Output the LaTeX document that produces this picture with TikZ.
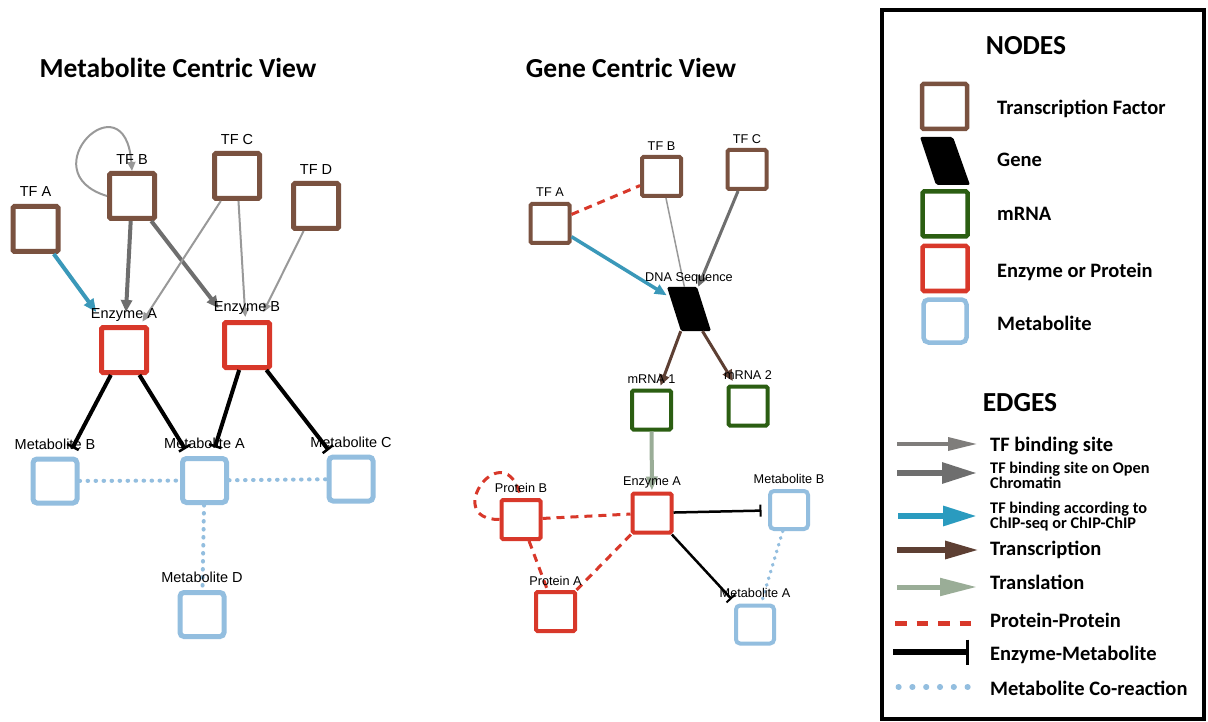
\documentclass[tikz,border=0pt]{standalone}
\usepackage{fontspec}
\setmainfont{Liberation Sans}
\newfontfamily\calib{Carlito}
\usetikzlibrary{arrows.meta}
\definecolor{tfbrown}{HTML}{7A5240}
\definecolor{enzred}{HTML}{D8382A}
\definecolor{mrnagreen}{HTML}{2B5E12}
\definecolor{metblue}{HTML}{93BEDF}
\definecolor{chipblue}{HTML}{3A98B9}
\definecolor{greythin}{HTML}{999999}
\definecolor{greydark}{HTML}{6E6E6E}
\definecolor{transbrown}{HTML}{5D3F33}
\definecolor{transgreen}{HTML}{9AAD97}
\definecolor{leggrey}{HTML}{7F7D7B}
\definecolor{legblue}{HTML}{2A9BBF}
\tikzset{
  box/.style={rectangle, inner sep=0pt, fill=white, rounded corners=1.5pt},
  tfL/.style={box, draw=tfbrown, line width=5pt, minimum size=45pt},
  enzL/.style={box, draw=enzred, line width=5pt, minimum size=45pt},
  metL/.style={box, draw=metblue, line width=5pt, minimum size=44pt, rounded corners=4pt},
  tfR/.style={box, draw=tfbrown, line width=4pt, minimum size=39pt},
  enzR/.style={box, draw=enzred, line width=4pt, minimum size=39pt},
  mrnaR/.style={box, draw=mrnagreen, line width=4pt, minimum size=39pt},
  metR/.style={box, draw=metblue, line width=4pt, minimum size=38pt, rounded corners=4pt},
  lblL/.style={font=\fontsize{14.5}{16}\selectfont, inner sep=0pt, anchor=base},
  lblR/.style={font=\fontsize{12.7}{14}\selectfont, inner sep=0pt, anchor=base},
  ttl/.style={font=\calib\bfseries\fontsize{27.5}{30}\selectfont, inner sep=0pt, anchor=base},
  legtxt/.style={font=\calib\bfseries\fontsize{20.5}{24}\selectfont, inner sep=0pt, anchor=base west},
  legsmall/.style={font=\calib\bfseries\fontsize{16.3}{18}\selectfont, inner sep=0pt, anchor=base west},
  leghead/.style={font=\calib\bfseries\fontsize{27.5}{30}\selectfont, inner sep=0pt, anchor=base},
  thinL/.style={draw=greythin, line width=2pt, -{Triangle[length=9pt,width=8pt]}},
  darkL/.style={draw=greydark, line width=4pt, -{Triangle[length=12pt,width=11pt]}},
  chipL/.style={draw=chipblue, line width=4pt, -{Triangle[length=13pt,width=11pt]}},
  teeL/.style={draw=black, line width=4pt, -{Bar[width=13pt,line width=2.5pt]}},
  dotL/.style={draw=metblue, line width=4pt, line cap=round, dash pattern=on 0.6pt off 7.4pt},
  thinR/.style={draw=greythin, line width=1.5pt},
  darkR/.style={draw=greydark, line width=3pt, -{Triangle[length=11pt,width=10pt]}},
  chipR/.style={draw=chipblue, line width=3.5pt, -{Triangle[length=12pt,width=10pt]}},
  transR/.style={draw=transbrown, line width=3pt, -{Triangle[length=11pt,width=10pt]}},
  translR/.style={draw=transgreen, line width=4pt, -{Triangle[length=14pt,width=11pt]}},
  ppR/.style={draw=enzred, line width=3pt, dash pattern=on 8pt off 6pt},
  teeR/.style={draw=black, line width=2.5pt, -{Bar[width=12pt,line width=2pt]}},
  dotR/.style={draw=metblue, line width=3.5pt, line cap=round, dash pattern=on 0.6pt off 6.4pt},
}
\begin{document}
\begin{tikzpicture}[x=1pt,y=-1pt]
\useasboundingbox (0,0) rectangle (1208,722);
\fill[white] (0,0) rectangle (1208,722);

% ---------------- Metabolite Centric View ----------------
\node[ttl] (t1) at (178,78) {Metabolite Centric View};
\node[tfL] (tfa) at (35.5,229) {};
\node[tfL] (tfb) at (132,196) {};
\node[tfL] (tfc) at (237,176) {};
\node[tfL] (tfd) at (316,206) {};
\node[enzL] (enza) at (124,350) {};
\node[enzL] (enzb) at (247,345) {};
\node[metL] (metb) at (55,481) {};
\node[metL] (meta) at (204.5,480.5) {};
\node[metL] (metc) at (351,479) {};
\node[metL] (metd) at (202,614.5) {};

\draw[chipL, shorten >=16pt] (tfa) -- (enza);
\draw[thinL] (tfb.west) .. controls (28,172) and (125,76) .. (tfb.north);
\draw[darkL, shorten >=13pt] (tfb) -- (enza);
\draw[darkL, shorten >=15pt] (tfb) -- (enzb);
\draw[thinL, shorten >=4pt] (tfc) -- (enza);
\draw[thinL, shorten >=3pt] (tfc) -- (enzb);
\draw[thinL, shorten >=8.5pt] (tfd) -- (enzb);
\draw[teeL, shorten >=9.5pt] (enza) -- (metb);
\draw[teeL, shorten >=8pt] (enza) -- (meta);
\draw[teeL, shorten >=9pt] (enzb) -- (meta);
\draw[teeL, shorten >=5.5pt] (enzb) -- (metc);
\draw[dotL] (metb) -- (meta);
\draw[dotL] (meta) -- (metc);
\draw[dotL] (meta) -- (metd);

\node[lblL] (ltfa) at ([yshift=7.5pt]tfa.north) {TF A};
\node[lblL] (ltfb) at ([yshift=6pt]tfb.north) {TF B};
\node[lblL] (ltfc) at ([yshift=6pt]tfc.north) {TF C};
\node[lblL] (ltfd) at ([yshift=6.5pt]tfd.north) {TF D};
\node[lblL] (lenza) at ([yshift=6pt]enza.north) {Enzyme A};
\node[lblL] (lenzb) at ([yshift=8pt]enzb.north) {Enzyme B};
\node[lblL] (lmetb) at ([yshift=7.5pt]metb.north) {Metabolite B};
\node[lblL] (lmeta) at ([yshift=7.5pt]meta.north) {Metabolite A};
\node[lblL] (lmetc) at ([yshift=7.5pt]metc.north) {Metabolite C};
\node[lblL] (lmetd) at ([yshift=7.5pt]metd.north) {Metabolite D};

% ---------------- Gene Centric View ----------------
\node[ttl] (t2) at (631,78) {Gene Centric View};
\node[tfR] (gtfa) at (550,223.5) {};
\node[tfR] (gtfb) at (661.5,176.5) {};
\node[tfR] (gtfc) at (747,169.5) {};
\node[inner sep=0pt, minimum width=44pt, minimum height=44pt] (dna) at (689,309) {};
\fill[black, rounded corners=1.5pt] (667,287) -- (697,287) -- (711,331) -- (681,331) -- cycle;
\node[mrnaR] (mrna1) at (651.5,410) {};
\node[mrnaR] (mrna2) at (748,406) {};
\node[enzR] (genza) at (652,513) {};
\node[enzR] (protb) at (521,519.5) {};
\node[enzR] (prota) at (555.5,611.5) {};
\node[metR] (gmetb) at (789,510) {};
\node[metR] (gmeta) at (755,624.5) {};

\draw[ppR] (gtfa) -- (gtfb);
\draw[chipR] (gtfa) -- (dna);
\draw[thinR] (gtfb) -- (dna);
\draw[darkR] (gtfc) -- (dna);
\draw[transR, shorten >=3pt] (dna) -- (mrna1);
\draw[transR, shorten >=4pt] (dna) -- (mrna2);
\draw[translR, shorten >=1pt] (mrna1) -- (genza);
\draw[ppR] (protb.west) .. controls (440,520) and (505,430) .. (protb.north);
\draw[ppR] (protb) -- (genza);
\draw[ppR] (protb) -- (prota);
\draw[ppR] (genza) -- (prota);
\draw[teeR, shorten >=6.5pt] (genza) -- (gmetb);
\draw[teeR, shorten >=6pt] (genza) -- (gmeta);
\draw[dotR] (gmetb) -- (gmeta);

\node[lblR] (lgtfa) at ([yshift=5.3pt]gtfa.north) {TF A};
\node[lblR] (lgtfb) at ([yshift=4.5pt]gtfb.north) {TF B};
\node[lblR] (lgtfc) at ([yshift=4.7pt]gtfc.north) {TF C};
\node[lblR] (ldna) at ([yshift=5.3pt]dna.north) {DNA Sequence};
\node[lblR] (lmrna1) at ([yshift=4.7pt]mrna1.north) {mRNA 1};
\node[lblR] (lmrna2) at ([yshift=5pt]mrna2.north) {mRNA 2};
\node[lblR] (lgenza) at ([yshift=6pt]genza.north) {Enzyme A};
\node[lblR] (lprotb) at ([yshift=5.3pt]protb.north) {Protein B};
\node[lblR] (lprota) at ([yshift=5pt]prota.north) {Protein A};
\node[lblR] (lgmetb) at ([yshift=6pt]gmetb.north) {Metabolite B};
\node[lblR] (lgmeta) at ([yshift=6.5pt]gmeta.north) {Metabolite A};

% ---------------- Legend ----------------
\draw[line width=4pt] (882,10) rectangle (1204,718.5);
\node[leghead] (hnodes) at (1026,55) {NODES};
\node[box, draw=tfbrown, line width=4.5pt, minimum size=45pt] (kt) at (944.5,106.5) {};
\fill[black, rounded corners=2pt] (920,137) -- (953,137) -- (970,185) -- (936,185) -- cycle;
\node[box, draw=mrnagreen, line width=4.5pt, minimum size=45pt] (km) at (945,214) {};
\node[box, draw=enzred, line width=4.5pt, minimum size=45pt] (ke) at (945,268.5) {};
\node[box, draw=metblue, line width=4.5pt, minimum size=43pt, rounded corners=5pt] (kmet) at (945,321) {};
\node[legtxt] (nt1) at (997,115) {Transcription Factor};
\node[legtxt] (nt2) at (997,166.5) {Gene};
\node[legtxt] (nt3) at (997,221) {mRNA};
\node[legtxt] (nt4) at (997,277.5) {Enzyme or Protein};
\node[legtxt] (nt5) at (997,330) {Metabolite};

\node[leghead] (hedges) at (1020,411.5) {EDGES};
\coordinate (a1) at (897,444);   \coordinate (b1) at (977,444);
\coordinate (a2) at (897,473);   \coordinate (b2) at (977,473);
\coordinate (a3) at (898,516);   \coordinate (b3) at (977,516);
\coordinate (a4) at (897,550);   \coordinate (b4) at (979,550);
\coordinate (a5) at (897,587);   \coordinate (b5) at (977,587);
\coordinate (a6) at (895,623);   \coordinate (b6) at (972,623);
\coordinate (a7) at (893,652);   \coordinate (b7) at (968.5,652);
\coordinate (a8) at (898.3,687); \coordinate (b8) at (968,687);
\draw[draw=leggrey, line width=3.3pt, -{Triangle[length=29pt,width=13pt]}] (a1) -- (b1);
\draw[draw=greydark, line width=6pt, -{Triangle[length=35pt,width=20pt]}] (a2) -- (b2);
\draw[draw=legblue, line width=6pt, -{Triangle[length=34pt,width=19pt]}] (a3) -- (b3);
\draw[draw=transbrown, line width=6pt, -{Triangle[length=34pt,width=17pt]}] (a4) -- (b4);
\draw[draw=transgreen, line width=5pt, -{Triangle[length=37pt,width=17pt]}] (a5) -- (b5);
\draw[draw=enzred, line width=5pt, dash pattern=on 11.5pt off 10pt] (a6) -- (b6);
\draw[draw=black, line width=6pt, -{Bar[width=25pt,line width=3pt]}] (a7) -- (b7);
\draw[draw=metblue, line width=5.5pt, line cap=round, dash pattern=on 0.6pt off 13.2pt] (a8) -- (b8);
\node[legtxt] (et1) at (990,451.7) {TF binding site};
\node[legsmall] (et2a) at (990,473) {TF binding site on Open};
\node[legsmall] (et2b) at (990,488.5) {Chromatin};
\node[legsmall] (et3a) at (990,513) {TF binding according to};
\node[legsmall] (et3b) at (990,528) {ChIP-seq or ChIP-ChIP};
\node[legtxt] (et4) at (990,555) {Transcription};
\node[legtxt] (et5) at (990,589.3) {Translation};
\node[legtxt] (et6) at (990,627.3) {Protein-Protein};
\node[legtxt] (et7) at (990,660.7) {Enzyme-Metabolite};
\node[legtxt] (et8) at (990,695) {Metabolite Co-reaction};
\end{tikzpicture}
\end{document}
